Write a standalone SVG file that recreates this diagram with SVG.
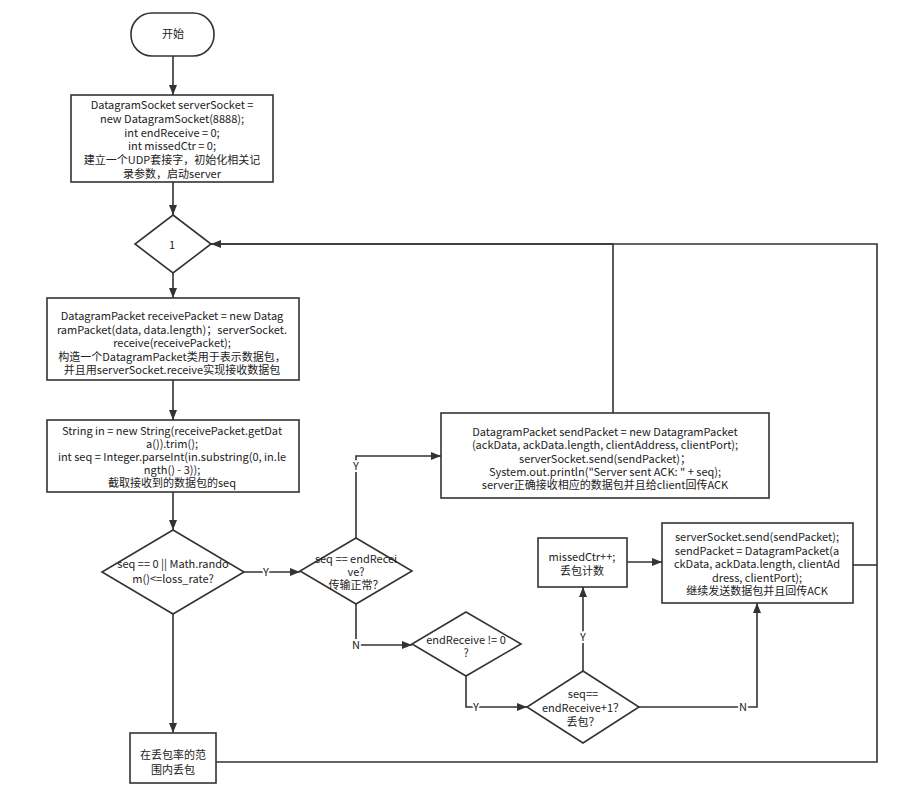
<svg xmlns="http://www.w3.org/2000/svg" width="923" height="803" viewBox="0 0 923 803">
<style>
.n{fill:#fff;stroke:#333;stroke-width:1.6}
.t{font-family:"Noto Sans CJK SC","Noto Sans",sans-serif;font-size:11px;fill:#222;text-anchor:middle}
.c{fill:none;stroke:#333;stroke-width:1.6}
.l{font-family:"Noto Sans CJK SC","Noto Sans",sans-serif;font-size:11px;fill:#222;text-anchor:middle;stroke:#fff;stroke-width:4;paint-order:stroke}
</style>
<defs>
<marker id="a" viewBox="0 0 10 10" refX="10" refY="5" markerWidth="10" markerHeight="10" markerUnits="userSpaceOnUse" orient="auto">
<path d="M0,1 L10,5 L0,9 Z" fill="#333"/>
</marker>
</defs>
<g id="connectors">
<path class="c" d="M173,56 V95" marker-end="url(#a)"/>
<path class="c" d="M173,182 V215" marker-end="url(#a)"/>
<path class="c" d="M173,273 V298" marker-end="url(#a)"/>
<path class="c" d="M173,380 V420" marker-end="url(#a)"/>
<path class="c" d="M173,492 V530" marker-end="url(#a)"/>
<path class="c" d="M173,614 V733" marker-end="url(#a)"/>
<path class="c" d="M244,572 H300" marker-end="url(#a)"/>
<path class="c" d="M356,538 V456 H441" marker-end="url(#a)"/>
<path class="c" d="M613,413 V244 H211" marker-end="url(#a)"/>
<path class="c" d="M216,762 H877 V244 H211"/>
<path class="c" d="M853,565 H877"/>
<path class="c" d="M356,604 V645 H412" marker-end="url(#a)"/>
<path class="c" d="M466,676 V707 H527" marker-end="url(#a)"/>
<path class="c" d="M583,671 V587" marker-end="url(#a)"/>
<path class="c" d="M627,562 H662" marker-end="url(#a)"/>
<path class="c" d="M639,707 H757 V603" marker-end="url(#a)"/>
<text class="l" x="266" y="576">Y</text>
<text class="l" x="356" y="470">Y</text>
<text class="l" x="356" y="649">N</text>
<text class="l" x="476" y="711">Y</text>
<text class="l" x="583" y="641">Y</text>
<text class="l" x="743" y="711">N</text>
</g>
<g id="start">
<rect class="n" x="131" y="13" width="83" height="43" rx="21"/>
<text class="t" x="173" y="38">开始</text>
</g>
<g id="init">
<rect class="n" x="71" y="95" width="202" height="87"/>
<text class="t" x="172" y="109">DatagramSocket serverSocket =<tspan x="172" dy="13.8">new DatagramSocket(8888);</tspan><tspan x="172" dy="13.8">int endReceive = 0;</tspan><tspan x="172" dy="13.8">int missedCtr = 0;</tspan><tspan x="172" dy="13.8">建立一个UDP套接字，初始化相关记</tspan><tspan x="172" dy="13.8">录参数，启动server</tspan></text>
</g>
<g id="loop">
<path class="n" d="M173,215 L211,244 L173,273 L135,244 Z"/>
<text class="t" x="172" y="249">1</text>
</g>
<g id="receive">
<rect class="n" x="47" y="298" width="252" height="82"/>
<text class="t" x="172" y="320">DatagramPacket receivePacket = new Datag<tspan x="172" dy="13.5">ramPacket(data, data.length)；serverSocket.</tspan><tspan x="172" dy="13.5">receive(receivePacket);</tspan><tspan x="172" dy="13.5">构造一个DatagramPacket类用于表示数据包，</tspan><tspan x="172" dy="13.5">并且用serverSocket.receive实现接收数据包</tspan></text>
</g>
<g id="parse">
<rect class="n" x="47" y="420" width="252" height="72"/>
<text class="t" x="172" y="435">String in = new String(receivePacket.getDat<tspan x="172" dy="13">a()).trim();</tspan><tspan x="172" dy="13">int seq = Integer.parseInt(in.substring(0, in.le</tspan><tspan x="172" dy="13">ngth() - 3));</tspan><tspan x="172" dy="13">截取接收到的数据包的seq</tspan></text>
</g>
<g id="lossCheck">
<path class="n" d="M173,530 L244,572 L173,614 L102,572 Z"/>
<text class="t" x="173" y="568">seq == 0 || Math.rando<tspan x="173" dy="14.5">m()&lt;=loss_rate?</tspan></text>
</g>
<g id="drop">
<rect class="n" x="130" y="733" width="86" height="50"/>
<text class="t" x="173" y="759">在丢包率的范<tspan x="173" dy="14.5">围内丢包</tspan></text>
</g>
<g id="seqCheck">
<path class="n" d="M356,538 L412,571 L356,604 L300,571 Z"/>
<text class="t" x="356" y="563">seq == endRecei<tspan x="356" dy="13">ve?</tspan><tspan x="356" dy="13">传输正常？</tspan></text>
</g>
<g id="sendAck">
<rect class="n" x="441" y="413" width="328" height="85"/>
<text class="t" x="605" y="436">DatagramPacket sendPacket = new DatagramPacket<tspan x="605" dy="13.3">(ackData, ackData.length, clientAddress, clientPort);</tspan><tspan x="605" dy="13.3">serverSocket.send(sendPacket)；</tspan><tspan x="605" dy="13.3">System.out.println("Server sent ACK: " + seq);</tspan><tspan x="605" dy="13.3">server正确接收相应的数据包并且给client回传ACK</tspan></text>
</g>
<g id="endCheck">
<path class="n" d="M466,612 L521,644 L466,676 L412,644 Z"/>
<text class="t" x="466" y="644">endReceive != 0<tspan x="466" dy="13">?</tspan></text>
</g>
<g id="lostCheck">
<path class="n" d="M583,671 L639,707 L583,743 L527,707 Z"/>
<text class="t" x="583" y="698">seq==<tspan x="583" dy="14">endReceive+1？</tspan><tspan x="583" dy="14">丢包？</tspan></text>
</g>
<g id="missed">
<rect class="n" x="538" y="538" width="89" height="49"/>
<text class="t" x="582" y="561">missedCtr++;<tspan x="582" dy="14">丢包计数</tspan></text>
</g>
<g id="resend">
<rect class="n" x="662" y="523" width="191" height="80"/>
<text class="t" x="757" y="541">serverSocket.send(sendPacket);<tspan x="757" dy="13.5">sendPacket = DatagramPacket(a</tspan><tspan x="757" dy="13.5">ckData, ackData.length, clientAd</tspan><tspan x="757" dy="13.5">dress, clientPort);</tspan><tspan x="757" dy="13.5">继续发送数据包并且回传ACK</tspan></text>
</g>
</svg>
